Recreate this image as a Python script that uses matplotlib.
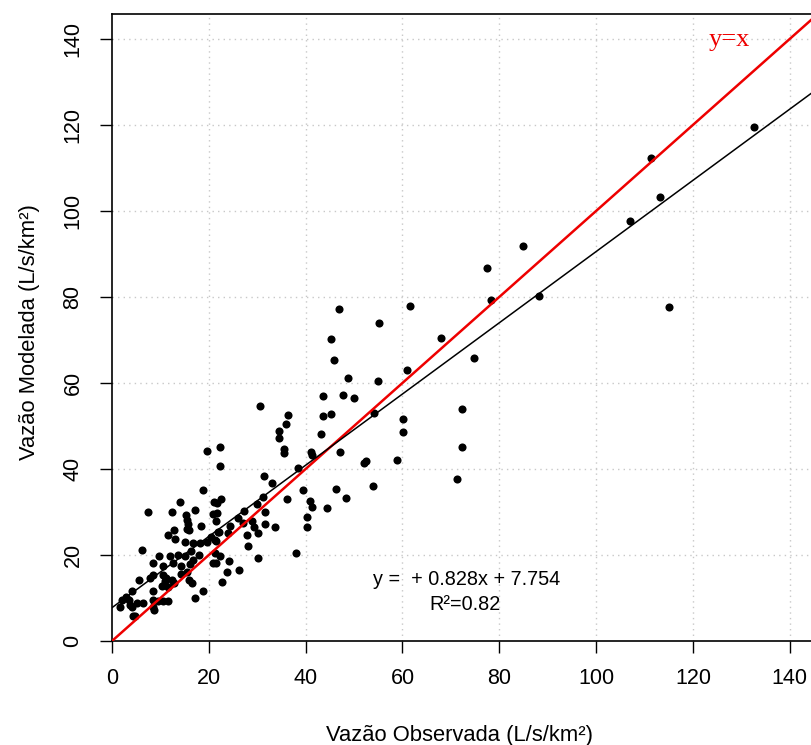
import matplotlib
matplotlib.use("Agg")
import matplotlib.pyplot as plt
import numpy as np

obs = [
    132.6, 111.3, 113.2, 107.0, 85.0, 77.4, 78.3, 88.2, 115.1, 74.7, 72.3, 72.3, 71.2,
    46.8, 61.5, 55.1, 45.2, 68.0, 45.8, 60.9, 48.7, 55.0, 43.6, 47.8, 49.9, 43.5, 45.2,
    54.2, 60.2, 60.1, 43.2, 41.1, 41.3, 47.1, 52.1, 52.5, 58.9, 39.4, 46.2, 54.0, 48.3,
    40.9, 41.3, 44.5, 40.3,
    30.5, 36.3, 35.9, 34.6, 34.4, 35.5, 35.6, 38.5, 22.4, 22.3, 31.5, 33.0, 31.1, 36.1,
    22.6, 21.6, 29.9,
    40.3, 31.6, 27.3, 26.1, 29.0, 31.6, 33.7, 29.3, 27.1, 24.4, 24.0, 22.0, 21.5, 30.2,
    27.9, 28.1, 38.0, 30.2, 22.3, 21.5, 24.2, 23.8, 26.3, 22.8, 21.7,
    19.6, 18.8, 14.0, 7.4, 12.3, 17.1, 21.0, 15.3, 15.5, 15.7, 15.5, 15.9, 18.4, 20.9,
    21.5, 12.9, 11.6, 13.1, 15.1, 16.8, 18.2, 19.6, 21.3, 20.4, 21.9,
    6.2, 9.8, 12.0, 13.6, 15.1, 16.3, 8.4, 10.5, 12.7, 14.3, 16.1, 16.8, 18.0, 20.9,
    21.3, 5.6, 7.8, 8.5, 10.5, 11.0, 10.8, 11.6, 11.2, 10.3, 12.4, 12.8, 14.2, 15.5,
    16.0, 16.5, 8.5, 4.2, 2.8, 2.1, 1.7, 3.5, 3.7, 4.2, 5.1, 6.5, 8.4, 8.5, 9.6, 10.6,
    11.6, 8.7, 4.4, 4.7, 18.7, 17.1,
]
mod = [
    119.6, 112.3, 103.3, 97.6, 91.9, 86.7, 79.4, 80.3, 77.7, 65.7, 53.9, 45.0, 37.6,
    77.1, 77.9, 74.0, 70.2, 70.4, 65.3, 63.0, 61.1, 60.5, 56.9, 57.1, 56.6, 52.4, 52.7,
    53.1, 51.6, 48.7, 48.2, 44.0, 43.3, 43.9, 41.5, 41.8, 42.2, 35.0, 35.4, 36.1, 33.3,
    32.5, 31.1, 30.9, 28.9,
    54.7, 52.6, 50.4, 48.9, 47.2, 44.6, 43.8, 40.2, 45.2, 40.8, 38.4, 36.8, 33.6, 33.1,
    33.0, 32.2, 31.9,
    26.4, 30.1, 30.2, 28.7, 27.9, 27.2, 26.6, 26.6, 27.5, 26.8, 25.0, 25.3, 23.3, 25.2,
    24.6, 22.0, 20.4, 19.2, 19.8, 18.1, 18.7, 16.0, 16.5, 13.7, 29.7,
    44.1, 35.0, 32.3, 29.9, 29.9, 30.4, 32.3, 29.2, 28.1, 27.1, 26.1, 25.8, 26.8, 29.5,
    27.9, 25.8, 24.6, 23.8, 23.0, 22.7, 22.7, 23.1, 23.5, 24.3, 25.4,
    21.2, 19.8, 19.7, 20.0, 19.8, 20.9, 18.2, 17.4, 18.1, 17.5, 17.8, 18.8, 20.0, 18.1,
    20.4, 14.3, 14.6, 15.3, 15.3, 14.0, 13.0, 12.6, 14.6, 12.9, 14.2, 13.5, 15.6, 16.1,
    14.2, 13.4, 11.6, 11.7, 10.3, 9.5, 8.0, 9.5, 8.4, 8.0, 8.8, 8.9, 9.5, 8.0, 9.2, 9.2,
    9.2, 7.2, 5.9, 5.7, 11.7, 9.9,
]
slope, intercept, r2 = 0.828, 7.754, 0.82
ticks = [0, 20, 40, 60, 80, 100, 120, 140]

plt.rcParams['font.family'] = ['Liberation Sans', 'DejaVu Sans']

fig = plt.figure(figsize=(8.12, 7.45), dpi=100)
ax = fig.add_axes([112 / 812, 104 / 745, 1 - 112 / 812, (641 - 14) / 745])
ax.set_xlim(0, 144.6)
ax.set_ylim(0, 145.8)

# dotted grid, skipping 0
for t in ticks[1:]:
    ax.axvline(t, color='#c8c8c8', lw=1, ls=(0, (1, 3)), zorder=0)
    ax.axhline(t, color='#c8c8c8', lw=1, ls=(0, (1, 3)), zorder=0)

ax.scatter(obs, mod, s=34, color='black', zorder=3, linewidths=0)

xl = np.array([0, 150])
ax.plot(xl, xl, color='#ee0000', lw=1.8, zorder=4)
ax.plot(xl, slope * xl + intercept, color='black', lw=1.1, zorder=4)

ax.text(127.6, 139.8, 'y=x', color='#ee0000', fontsize=19,
        family='Liberation Serif', ha='center', va='center')
ax.text(73.3, 14.2, f'y =  + {slope}x + {intercept}', fontsize=14.3,
        ha='center', va='center')
ax.text(72.9, 8.6, f'R²={r2}', fontsize=14.3, ha='center', va='center')

ax.set_xticks(ticks)
ax.set_yticks(ticks)
ax.tick_params(direction='out', length=8.5, width=1, labelsize=15.5)
ax.tick_params(axis='x', pad=11)
ax.tick_params(axis='y', pad=12)
for lbl in ax.get_yticklabels():
    lbl.set_rotation(90)
    lbl.set_va('center')

ax.spines['right'].set_visible(False)
for s in ['left', 'bottom', 'top']:
    ax.spines[s].set_linewidth(1.2)

fig.text(0.5 + 54 / 812, 1 - 735 / 745, 'Vazão Observada (L/s/km²)', fontsize=15.8,
         ha='center', va='center')
fig.text(30 / 812, 1 - 332 / 745, 'Vazão Modelada (L/s/km²)', fontsize=15.8,
         ha='center', va='center', rotation=90)

fig.savefig('out.png', dpi=100)
